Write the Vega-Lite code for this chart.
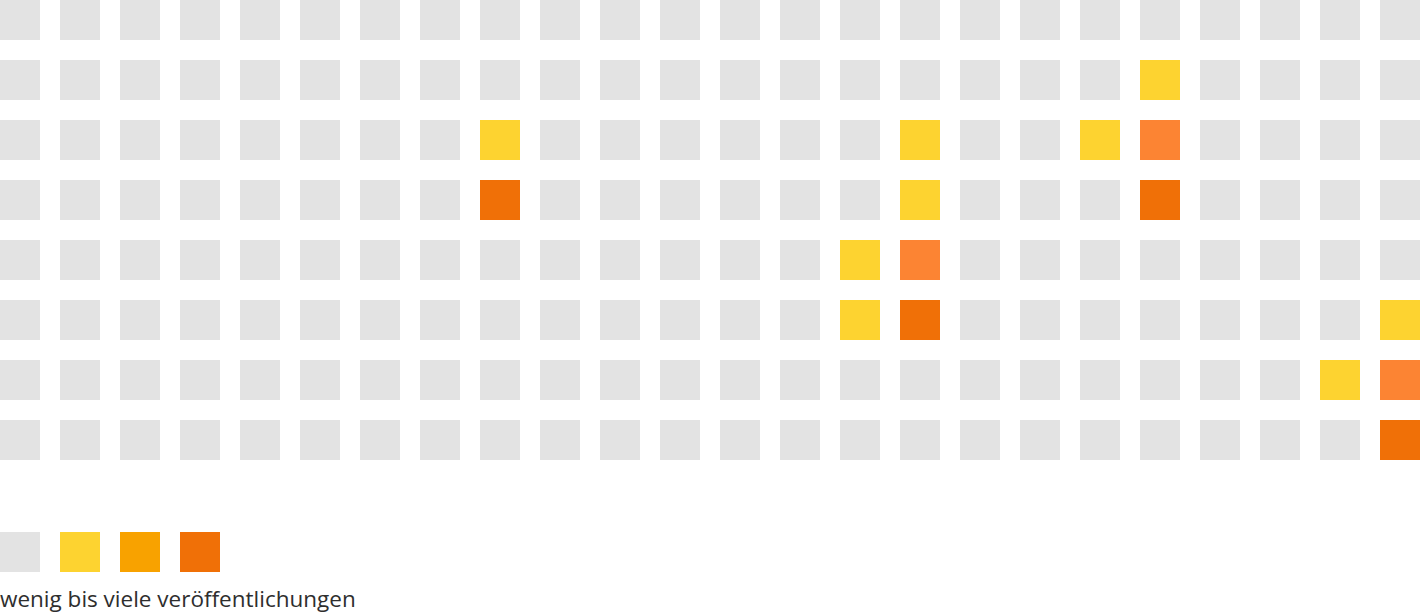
{
  "$schema": "https://vega.github.io/schema/vega-lite/v6.json",
  "padding": 0,
  "background": "white",
  "config": {"view": {"stroke": null}, "concat": {"spacing": 72}},
  "datasets": {
    "grid": [
      {"r":0,"c":0,"v":0},{"r":0,"c":1,"v":0},{"r":0,"c":2,"v":0},{"r":0,"c":3,"v":0},{"r":0,"c":4,"v":0},{"r":0,"c":5,"v":0},{"r":0,"c":6,"v":0},{"r":0,"c":7,"v":0},{"r":0,"c":8,"v":0},{"r":0,"c":9,"v":0},{"r":0,"c":10,"v":0},{"r":0,"c":11,"v":0},{"r":0,"c":12,"v":0},{"r":0,"c":13,"v":0},{"r":0,"c":14,"v":0},{"r":0,"c":15,"v":0},{"r":0,"c":16,"v":0},{"r":0,"c":17,"v":0},{"r":0,"c":18,"v":0},{"r":0,"c":19,"v":0},{"r":0,"c":20,"v":0},{"r":0,"c":21,"v":0},{"r":0,"c":22,"v":0},{"r":0,"c":23,"v":0},
      {"r":1,"c":0,"v":0},{"r":1,"c":1,"v":0},{"r":1,"c":2,"v":0},{"r":1,"c":3,"v":0},{"r":1,"c":4,"v":0},{"r":1,"c":5,"v":0},{"r":1,"c":6,"v":0},{"r":1,"c":7,"v":0},{"r":1,"c":8,"v":0},{"r":1,"c":9,"v":0},{"r":1,"c":10,"v":0},{"r":1,"c":11,"v":0},{"r":1,"c":12,"v":0},{"r":1,"c":13,"v":0},{"r":1,"c":14,"v":0},{"r":1,"c":15,"v":0},{"r":1,"c":16,"v":0},{"r":1,"c":17,"v":0},{"r":1,"c":18,"v":0},{"r":1,"c":19,"v":1},{"r":1,"c":20,"v":0},{"r":1,"c":21,"v":0},{"r":1,"c":22,"v":0},{"r":1,"c":23,"v":0},
      {"r":2,"c":0,"v":0},{"r":2,"c":1,"v":0},{"r":2,"c":2,"v":0},{"r":2,"c":3,"v":0},{"r":2,"c":4,"v":0},{"r":2,"c":5,"v":0},{"r":2,"c":6,"v":0},{"r":2,"c":7,"v":0},{"r":2,"c":8,"v":1},{"r":2,"c":9,"v":0},{"r":2,"c":10,"v":0},{"r":2,"c":11,"v":0},{"r":2,"c":12,"v":0},{"r":2,"c":13,"v":0},{"r":2,"c":14,"v":0},{"r":2,"c":15,"v":1},{"r":2,"c":16,"v":0},{"r":2,"c":17,"v":0},{"r":2,"c":18,"v":1},{"r":2,"c":19,"v":2},{"r":2,"c":20,"v":0},{"r":2,"c":21,"v":0},{"r":2,"c":22,"v":0},{"r":2,"c":23,"v":0},
      {"r":3,"c":0,"v":0},{"r":3,"c":1,"v":0},{"r":3,"c":2,"v":0},{"r":3,"c":3,"v":0},{"r":3,"c":4,"v":0},{"r":3,"c":5,"v":0},{"r":3,"c":6,"v":0},{"r":3,"c":7,"v":0},{"r":3,"c":8,"v":3},{"r":3,"c":9,"v":0},{"r":3,"c":10,"v":0},{"r":3,"c":11,"v":0},{"r":3,"c":12,"v":0},{"r":3,"c":13,"v":0},{"r":3,"c":14,"v":0},{"r":3,"c":15,"v":1},{"r":3,"c":16,"v":0},{"r":3,"c":17,"v":0},{"r":3,"c":18,"v":0},{"r":3,"c":19,"v":3},{"r":3,"c":20,"v":0},{"r":3,"c":21,"v":0},{"r":3,"c":22,"v":0},{"r":3,"c":23,"v":0},
      {"r":4,"c":0,"v":0},{"r":4,"c":1,"v":0},{"r":4,"c":2,"v":0},{"r":4,"c":3,"v":0},{"r":4,"c":4,"v":0},{"r":4,"c":5,"v":0},{"r":4,"c":6,"v":0},{"r":4,"c":7,"v":0},{"r":4,"c":8,"v":0},{"r":4,"c":9,"v":0},{"r":4,"c":10,"v":0},{"r":4,"c":11,"v":0},{"r":4,"c":12,"v":0},{"r":4,"c":13,"v":0},{"r":4,"c":14,"v":1},{"r":4,"c":15,"v":2},{"r":4,"c":16,"v":0},{"r":4,"c":17,"v":0},{"r":4,"c":18,"v":0},{"r":4,"c":19,"v":0},{"r":4,"c":20,"v":0},{"r":4,"c":21,"v":0},{"r":4,"c":22,"v":0},{"r":4,"c":23,"v":0},
      {"r":5,"c":0,"v":0},{"r":5,"c":1,"v":0},{"r":5,"c":2,"v":0},{"r":5,"c":3,"v":0},{"r":5,"c":4,"v":0},{"r":5,"c":5,"v":0},{"r":5,"c":6,"v":0},{"r":5,"c":7,"v":0},{"r":5,"c":8,"v":0},{"r":5,"c":9,"v":0},{"r":5,"c":10,"v":0},{"r":5,"c":11,"v":0},{"r":5,"c":12,"v":0},{"r":5,"c":13,"v":0},{"r":5,"c":14,"v":1},{"r":5,"c":15,"v":3},{"r":5,"c":16,"v":0},{"r":5,"c":17,"v":0},{"r":5,"c":18,"v":0},{"r":5,"c":19,"v":0},{"r":5,"c":20,"v":0},{"r":5,"c":21,"v":0},{"r":5,"c":22,"v":0},{"r":5,"c":23,"v":1},
      {"r":6,"c":0,"v":0},{"r":6,"c":1,"v":0},{"r":6,"c":2,"v":0},{"r":6,"c":3,"v":0},{"r":6,"c":4,"v":0},{"r":6,"c":5,"v":0},{"r":6,"c":6,"v":0},{"r":6,"c":7,"v":0},{"r":6,"c":8,"v":0},{"r":6,"c":9,"v":0},{"r":6,"c":10,"v":0},{"r":6,"c":11,"v":0},{"r":6,"c":12,"v":0},{"r":6,"c":13,"v":0},{"r":6,"c":14,"v":0},{"r":6,"c":15,"v":0},{"r":6,"c":16,"v":0},{"r":6,"c":17,"v":0},{"r":6,"c":18,"v":0},{"r":6,"c":19,"v":0},{"r":6,"c":20,"v":0},{"r":6,"c":21,"v":0},{"r":6,"c":22,"v":1},{"r":6,"c":23,"v":2},
      {"r":7,"c":0,"v":0},{"r":7,"c":1,"v":0},{"r":7,"c":2,"v":0},{"r":7,"c":3,"v":0},{"r":7,"c":4,"v":0},{"r":7,"c":5,"v":0},{"r":7,"c":6,"v":0},{"r":7,"c":7,"v":0},{"r":7,"c":8,"v":0},{"r":7,"c":9,"v":0},{"r":7,"c":10,"v":0},{"r":7,"c":11,"v":0},{"r":7,"c":12,"v":0},{"r":7,"c":13,"v":0},{"r":7,"c":14,"v":0},{"r":7,"c":15,"v":0},{"r":7,"c":16,"v":0},{"r":7,"c":17,"v":0},{"r":7,"c":18,"v":0},{"r":7,"c":19,"v":0},{"r":7,"c":20,"v":0},{"r":7,"c":21,"v":0},{"r":7,"c":22,"v":0},{"r":7,"c":23,"v":3}
    ],
    "legende": [
      {"stufe": "keine"},
      {"stufe": "wenig"},
      {"stufe": "mittel"},
      {"stufe": "viele"}
    ]
  },
  "vconcat": [
    {
      "width": 1420,
      "height": 460,
      "data": {"name": "grid"},
      "mark": {"type": "rect"},
      "encoding": {
        "x": {"field": "c", "type": "ordinal", "axis": null, "scale": {"paddingInner": 0.33333333, "paddingOuter": 0}},
        "y": {"field": "r", "type": "ordinal", "axis": null, "scale": {"paddingInner": 0.33333333, "paddingOuter": 0}},
        "color": {"field": "v", "type": "ordinal", "legend": null,
          "scale": {"domain": [0, 1, 2, 3], "range": ["#e3e3e3", "#fdd330", "#fc8433", "#f07007"]}}
      }
    },
    {
      "width": 220,
      "height": 40,
      "data": {"name": "legende"},
      "title": {"text": "wenig bis viele veröffentlichungen", "orient": "bottom", "anchor": "start", "fontSize": 22.5, "fontWeight": 400, "font": "Open Sans", "color": "#2e2e2e", "baseline": "alphabetic", "offset": 35},
      "mark": {"type": "rect"},
      "encoding": {
        "x": {"field": "stufe", "type": "nominal", "sort": null, "axis": null, "scale": {"paddingInner": 0.33333333, "paddingOuter": 0}},
        "color": {"field": "stufe", "type": "nominal", "legend": null,
          "scale": {"domain": ["keine", "wenig", "mittel", "viele"], "range": ["#e3e3e3", "#fdd330", "#f8a200", "#f07007"]}}
      }
    }
  ],
  "resolve": {"scale": {"color": "independent", "x": "independent", "y": "independent"}}
}
